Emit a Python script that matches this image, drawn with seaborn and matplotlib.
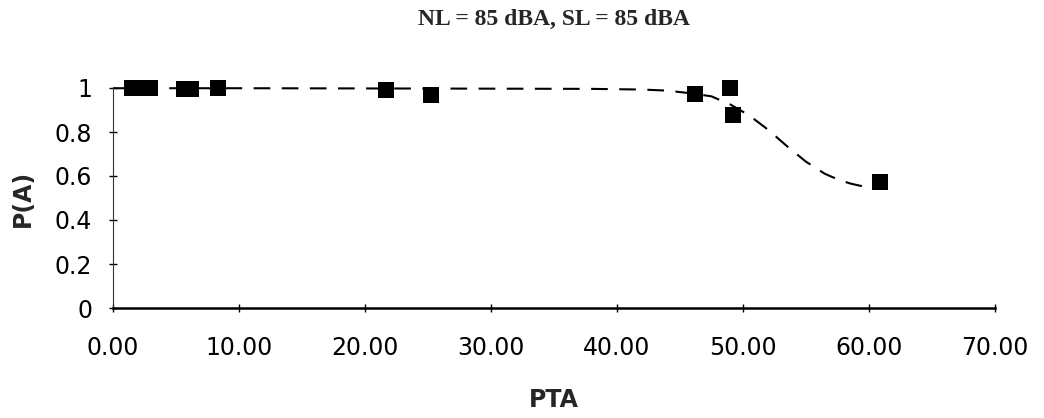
import matplotlib
matplotlib.use("Agg")
import matplotlib.pyplot as plt
import seaborn as sns
import pandas as pd
from matplotlib.ticker import FuncFormatter, MultipleLocator

# Observed data points
pta_values = [1.5, 2.2, 2.9, 5.6, 6.2, 8.3, 21.7, 25.2, 46.2, 49.0, 49.2, 60.9]
pa_values = [1.0, 1.0, 1.0, 0.995, 0.995, 1.0, 0.99, 0.968, 0.973, 1.0, 0.877, 0.573]

# Fitted curve (dashed)
fit_x = [0, 10, 20, 30, 38, 42, 44, 46, 47.5, 49, 50.5, 52, 53.5, 55, 56.5, 57.5, 58.5, 59.5, 61]
fit_y = [0.999, 0.999, 0.998, 0.997, 0.996, 0.993, 0.988, 0.975, 0.962, 0.925,
         0.875, 0.81, 0.735, 0.665, 0.61, 0.585, 0.566, 0.553, 0.545]

title_text = "NL = 85 dBA, SL = 85 dBA"
x_label = "PTA"
y_label = "P(A)"

sns.set_style("white")
plt.rcParams['font.family'] = ['DejaVu Sans']

fig = plt.figure(figsize=(10.44, 4.18), dpi=100)
ax = fig.add_axes([113/1044, 1 - 308/418, (995-113)/1044, (308-88)/418])

pts = pd.DataFrame({"PTA": pta_values, "PA": pa_values})
fit = pd.DataFrame({"PTA": fit_x, "PA": fit_y})

sns.lineplot(data=fit, x="PTA", y="PA", ax=ax, color="black", lw=1.5,
             dashes=False, sort=False, zorder=2)
ax.lines[-1].set_dashes((8, 5.5))
ax.lines[-1].set_clip_on(False)

sns.scatterplot(data=pts, x="PTA", y="PA", ax=ax, marker="s", s=130,
                color="black", edgecolor="black", linewidth=0, zorder=3,
                clip_on=False)

ax.set_xlim(0, 70)
ax.set_ylim(0, 1)
ax.xaxis.set_major_locator(MultipleLocator(10))
ax.yaxis.set_major_locator(MultipleLocator(0.2))
ax.xaxis.set_major_formatter(FuncFormatter(lambda v, p: f"{v:.2f}"))
ax.yaxis.set_major_formatter(FuncFormatter(lambda v, p: f"{round(v, 1):g}"))

for s in ["top", "right"]:
    ax.spines[s].set_visible(False)
ax.spines["left"].set_linewidth(0.8)
ax.spines["left"].set_color("#333333")
ax.spines["bottom"].set_linewidth(1.8)
ax.spines["bottom"].set_color("black")

ax.tick_params(axis="x", direction="inout", length=6, width=1, pad=17,
               labelsize=17, colors="black")
ax.tick_params(axis="y", direction="inout", length=6, width=1, pad=12,
               labelsize=17, colors="black")
ax.tick_params(left=True, bottom=True)

ax.set_xlabel(x_label, fontsize=17, fontweight="bold", labelpad=20)
ax.set_ylabel(y_label, fontsize=17, fontweight="bold", labelpad=14)

fig.text(554/1044, 1 - 19/418, title_text, ha="center", va="center",
         fontsize=17, fontweight="bold", family=["Liberation Serif", "DejaVu Serif"])

fig.savefig("out.png", dpi=100)
